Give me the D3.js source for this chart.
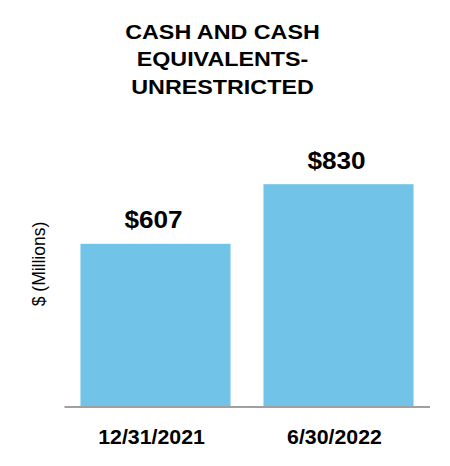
<!DOCTYPE html>
<html>
<head>
<meta charset="utf-8">
<script src="https://cdn.jsdelivr.net/npm/d3@7"></script>
<style>
  html, body { margin: 0; padding: 0; background: #fff; }
  svg { display: block; font-family: "Liberation Sans", Arial, sans-serif; }
</style>
</head>
<body>
<svg id="chart" width="450" height="466"></svg>
<script>
const titleLines = ["CASH AND CASH", "EQUIVALENTS-", "UNRESTRICTED"];
const categories = ["12/31/2021", "6/30/2022"];
const values = [607, 830];
const valueLabels = ["$607", "$830"];
const yAxisLabel = "$ (Millions)";

const svg = d3.select("#chart");
const W = 450, H = 466;
const baseline = 406;

const x = d3.scaleBand()
  .domain(categories)
  .range([64, 430])
  .paddingInner(0.18)
  .paddingOuter(0.09);

const y = d3.scaleLinear()
  .domain([0, 900])
  .range([baseline, baseline - 240.5]);

// Title
const title = svg.append("g");
titleLines.forEach((t, i) => {
  title.append("text")
    .attr("transform", `translate(222.5, ${38.5 + i * 27.5}) scale(1.11,1)`)
    .attr("text-anchor", "middle")
    .attr("font-size", 21)
    .attr("font-weight", "bold")
    .attr("fill", "#000")
    .text(t);
});

// Bars
svg.append("g").selectAll("rect")
  .data(values)
  .join("rect")
  .attr("x", (d, i) => x(categories[i]))
  .attr("y", d => y(d))
  .attr("width", x.bandwidth())
  .attr("height", d => y(0) - y(d))
  .attr("fill", "#71C3E8");

// Value labels
svg.append("g").selectAll("text")
  .data(values)
  .join("text")
  .attr("transform", (d, i) => `translate(${x(categories[i]) + x.bandwidth() / 2 - 2}, ${y(d) - 15.5}) scale(1.09,1)`)
  .attr("text-anchor", "middle")
  .attr("font-size", 24)
  .attr("font-weight", "bold")
  .attr("fill", "#000")
  .text((d, i) => valueLabels[i]);

// X axis baseline
const xAxis = svg.append("g")
  .attr("transform", `translate(0, ${baseline + 1})`)
  .call(d3.axisBottom(x).tickSize(0).tickPadding(0).tickFormat(() => ""));
xAxis.select(".domain")
  .attr("d", "M64.5,0H430")
  .attr("stroke", "#a0a0a0")
  .attr("stroke-width", 2);

// X category labels
svg.append("g").selectAll("text")
  .data(categories)
  .join("text")
  .attr("transform", d => `translate(${x(d) + x.bandwidth() / 2 - 4}, 444) scale(1.04,1)`)
  .attr("text-anchor", "middle")
  .attr("font-size", 20.5)
  .attr("font-weight", "bold")
  .attr("fill", "#000")
  .text(d => d);

// Y axis label
svg.append("text")
  .attr("transform", "translate(44.5, 264) rotate(-90) scale(1,1.1)")
  .attr("text-anchor", "middle")
  .attr("font-size", 17.5)
  .attr("fill", "#000")
  .text(yAxisLabel);
</script>
</body>
</html>
